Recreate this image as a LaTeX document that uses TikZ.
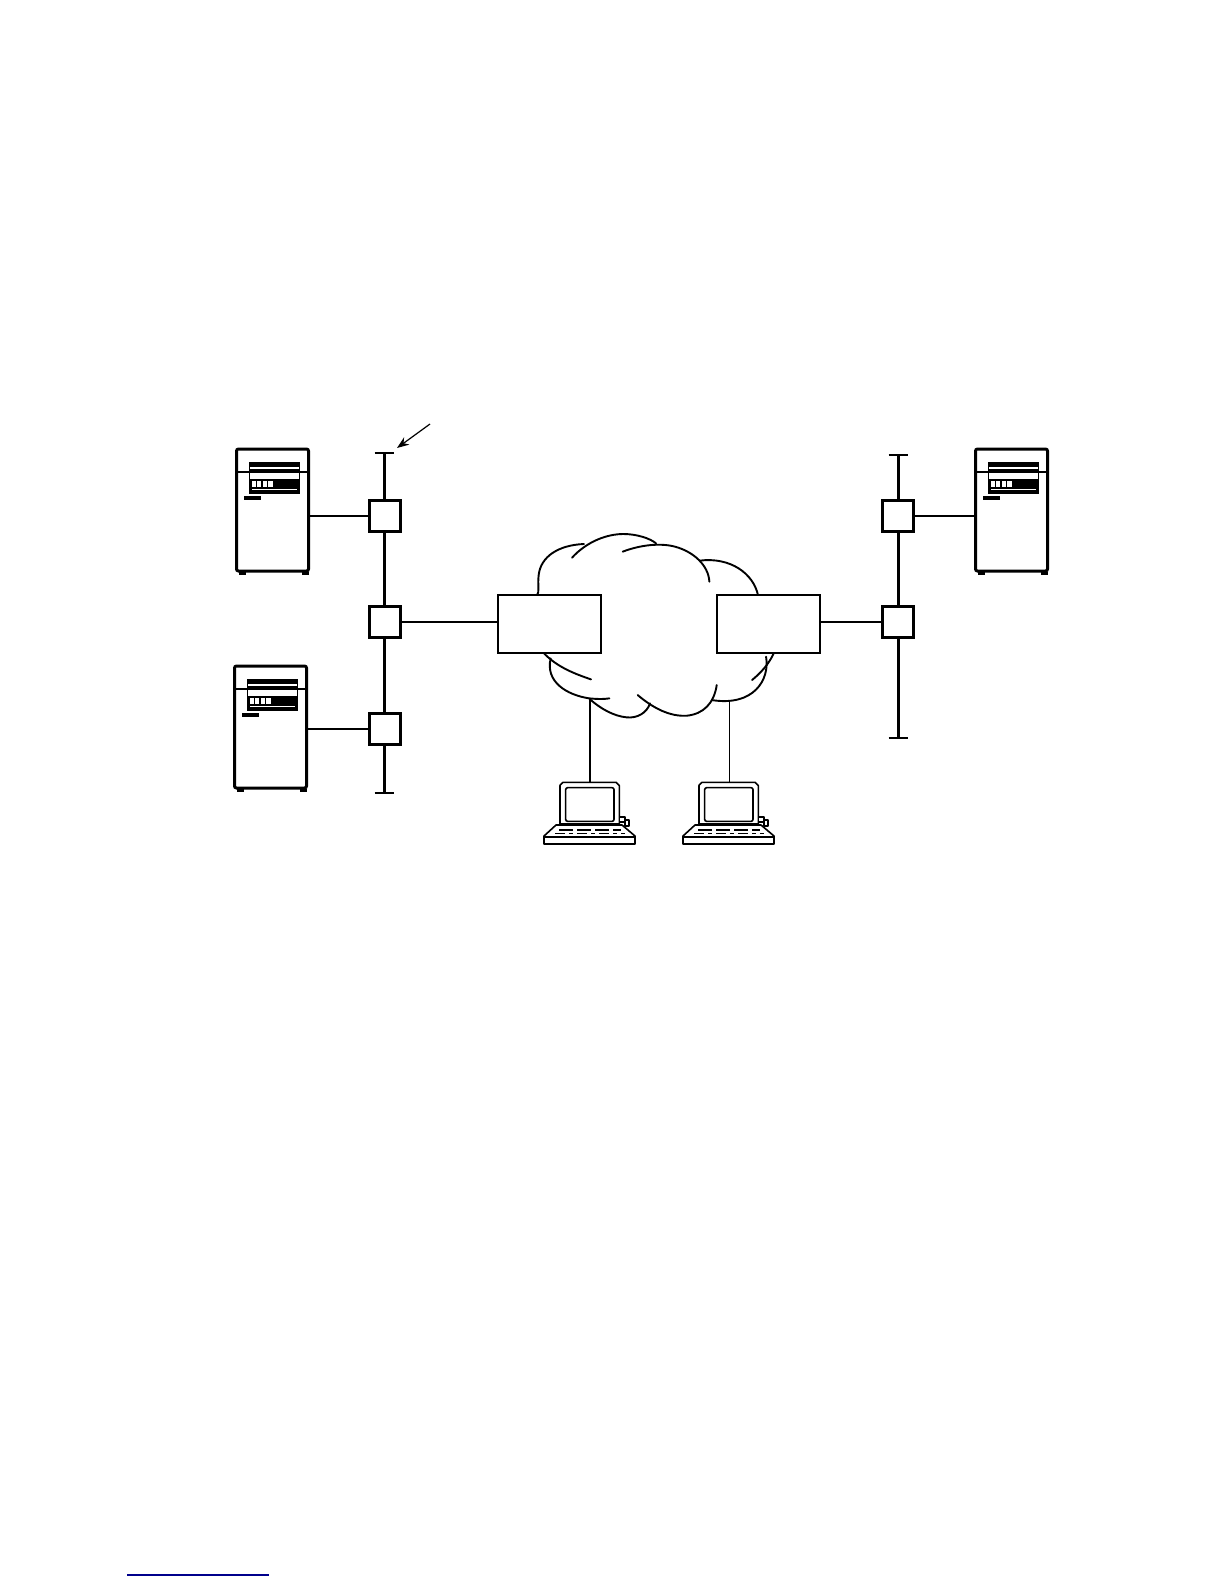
\documentclass[tikz,border=0pt]{standalone}
\usetikzlibrary{arrows.meta}
\tikzset{
  busline/.style={line width=1.5pt,line cap=butt},
  buscap/.style={line width=1.2pt},
  link/.style={line width=1.1pt},
  swbox/.style={draw,line width=1.5pt,fill=white,minimum width=15.5pt,minimum height=15.5pt,inner sep=0pt,outer sep=0pt},
  gwbox/.style={draw,line width=.6pt,fill=white,minimum width=51.5pt,minimum height=29pt,inner sep=0pt,outer sep=0pt},
  cloudline/.style={line width=.95pt,line cap=round},
  lapline/.style={line width=.8pt,line join=round},
  pics/srv/.style={code={
    \node[draw,line width=1.5pt,rounded corners=1pt,minimum width=36pt,minimum height=61pt,inner sep=0pt,outer sep=0pt] (-body) at (36.5,61) {};
    \fill (3,123) rectangle (10,125.5);
    \fill (66,123) rectangle (73,125.5);
    \draw[line width=.5pt,fill=white] (13,13) rectangle (63,44);
    \fill (13,13) rectangle (63,18);
    \fill (13,19.5) rectangle (63,24);
    \fill (13,30) rectangle (63,44);
    \fill[white] (15.7,31.7) rectangle (20.3,38);
    \fill[white] (21.3,31.7) rectangle (25.3,38);
    \fill[white] (26.7,31.7) rectangle (30.7,38);
    \fill[white] (32.3,31.7) rectangle (37,38);
    \fill[white] (15.7,39.7) rectangle (61,41);
    \draw[line width=.6pt] (0,23) -- (73,23);
    \fill (8,46.7) rectangle (25,50.7);
  }},
  pics/laptop/.style={code={
    \begin{scope}[x=.1667pt,y=-.1667pt]
    \draw[lapline,fill=white] (90,192) -- (90,76) -- (99,67) -- (258,67) -- (268,77) -- (268,192) -- cycle;
    \draw[lapline,rounded corners=1pt] (107,83) rectangle (252,184);
    \draw[lapline,fill=white] (268,171) rectangle (285,186);
    \draw[lapline,fill=white] (285,180) rectangle (297,198);
    \draw[lapline,fill=white] (78,195) -- (276,195) -- (315,228) -- (315,252) -- (42,252) -- (42,228) -- cycle;
    \draw[lapline] (42,231) -- (315,231);
    \draw[line width=.8pt,dash pattern=on 7pt off 2pt] (88,210) -- (272,210);
    \draw[line width=.8pt,dash pattern=on 5pt off 2pt on 2pt off 2pt] (75,221) -- (285,221);
    \end{scope}
  }}
}
\begin{document}
\begin{tikzpicture}[x=.5pt,y=-.5pt]
\useasboundingbox (0,0) rectangle (1224,1584);
\fill[white] (0,0) rectangle (1224,1584);

% cloud (coordinates of the 3x crop)
\begin{scope}[shift={(490,510)},x=.1667pt,y=-.1667pt]
\draw[cloudline] (140,258) .. controls (150,245) and (142,225) .. (146,195) .. controls (152,140) and (205,105) .. (282,102);
\draw[cloudline] (246,143) .. controls (290,95) and (350,72) .. (400,72) .. controls (440,72) and (480,85) .. (498,100);
\draw[cloudline] (398,125) .. controls (450,105) and (510,98) .. (555,110) .. controls (610,125) and (655,165) .. (658,215);
\draw[cloudline] (628,152) .. controls (720,140) and (790,190) .. (804,256);
\draw[cloudline] (852,428) .. controls (835,465) and (810,490) .. (786,510);
\draw[cloudline] (828,440) .. controls (840,510) and (790,590) .. (665,570);
\draw[cloudline] (443,555) .. controls (490,595) and (540,620) .. (590,617) .. controls (640,612) and (672,580) .. (680,525);
\draw[cloudline] (480,580) .. controls (470,610) and (440,625) .. (410,622) .. controls (370,618) and (330,595) .. (298,566);
\draw[cloudline] (358,565) .. controls (340,568) and (320,567) .. (298,565) .. controls (230,555) and (165,515) .. (182,445);
\draw[cloudline] (160,428) .. controls (200,470) and (250,490) .. (303,508);
\end{scope}

% bus ends
\coordinate (ltop) at (384,453);
\coordinate (lbot) at (384,793);
\coordinate (rtop) at (898,455);
\coordinate (rbot) at (898,738);
\draw[busline] (ltop) -- (lbot);
\draw[busline] (rtop) -- (rbot);
\draw[buscap] ([xshift=-4.75pt]ltop) -- ([xshift=4.75pt]ltop);
\draw[buscap] ([xshift=-4.75pt]lbot) -- ([xshift=4.75pt]lbot);
\draw[buscap] ([xshift=-4.75pt]rtop) -- ([xshift=4.75pt]rtop);
\draw[buscap] ([xshift=-4.75pt]rbot) -- ([xshift=4.75pt]rbot);

% arrow
\coordinate (arrtail) at (430,424);
\coordinate (arrhead) at (397,448);
\draw[-{Stealth[length=6pt,width=4.5pt]},line width=.6pt] (arrtail) -- (arrhead);

% servers
\pic (s1) at (236,449) {srv};
\pic (s2) at (234,666) {srv};
\pic (s3) at (975,449) {srv};

% switches
\node[swbox] (a1) at (385,516) {};
\node[swbox] (a2) at (385,622) {};
\node[swbox] (a3) at (385,729) {};
\node[swbox] (b1) at (898,516) {};
\node[swbox] (b2) at (898,622) {};

% gateway boxes
\node[gwbox] (g1) at (549.5,624) {};
\node[gwbox] (g2) at (768.5,624) {};

% links
\draw[link] (s1-body.east |- a1) -- (a1.west);
\draw[link] (s2-body.east |- a3) -- (a3.west);
\draw[link] (b1.east) -- (s3-body.west |- b1);
\draw[link] (a2.east) -- (g1.west |- a2);
\draw[link] (g2.east |- b2) -- (b2.west);

% laptops
\pic (p1) at (530,760) {laptop};
\pic (p2) at (669,760) {laptop};
\coordinate (c1) at (590,699);
\coordinate (c2) at (729,702);
\coordinate (t1) at (590,782);
\coordinate (t2) at (729,782);
\draw[line width=.8pt] (c1) -- (t1);
\draw[line width=.45pt] (c2) -- (t2);

% footnote rule
\coordinate (r1) at (127,1575);
\coordinate (r2) at (269,1575);
\draw[line width=.6pt,color=blue!55!black] (r1) -- (r2);
\end{tikzpicture}
\end{document}
